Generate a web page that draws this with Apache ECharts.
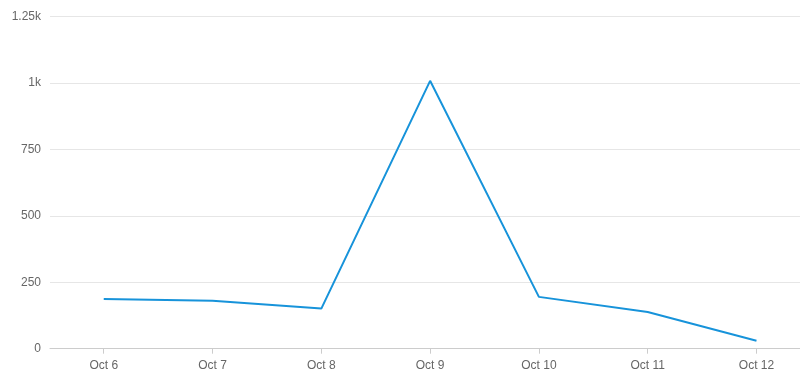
<!DOCTYPE html>
<html>
<head>
<meta charset="utf-8">
<script src="https://cdn.jsdelivr.net/npm/echarts@6/dist/echarts.min.js"></script>
<style>
html,body{margin:0;padding:0;background:#fff;}
#c{width:800px;height:382px;}
</style>
</head>
<body>
<div id="c"></div>
<script>
var categories = ['Oct 6','Oct 7','Oct 8','Oct 9','Oct 10','Oct 11','Oct 12'];
var values = [187, 180, 151, 1008, 195, 138, 30];
var yTicks = [0, 250, 500, 750, 1000, 1250];

function fmtY(v){
  if (v >= 1000) { return (v/1000) + 'k'; }
  return String(v);
}

var idx = categories.map(function(c, i){ return i; });
var seriesData = values.map(function(v, i){ return [i, v]; });

var chart = echarts.init(document.getElementById('c'), null, {renderer:'canvas'});
chart.setOption({
  animation: false,
  textStyle: {fontFamily: 'Liberation Sans, Arial, sans-serif'},
  grid: {left: 50, top: 16.5, right: 0, bottom: 33.3, containLabel: false},
  xAxis: {
    type: 'value',
    min: -0.494,
    max: 6.40,
    axisLine: {show: true, onZero: false, lineStyle: {color: '#ccc'}},
    axisTick: {show: true, customValues: idx, lineStyle: {color: '#ccc'}, length: 5},
    axisLabel: {
      color: '#666', fontSize: 12, margin: 11,
      customValues: idx,
      formatter: function(v){ return categories[Math.round(v)]; }
    },
    splitLine: {show: false}
  },
  yAxis: {
    type: 'value',
    min: yTicks[0],
    max: yTicks[yTicks.length-1],
    interval: 250,
    axisLine: {show: false},
    axisTick: {show: false},
    axisLabel: {color: '#666', fontSize: 12, margin: 9, formatter: fmtY},
    splitLine: {lineStyle: {color: '#e6e6e6'}}
  },
  series: [{
    type: 'line',
    data: seriesData,
    symbol: 'none',
    lineStyle: {color: '#1793da', width: 2},
    itemStyle: {color: '#1793da'}
  }]
});
</script>
</body>
</html>
